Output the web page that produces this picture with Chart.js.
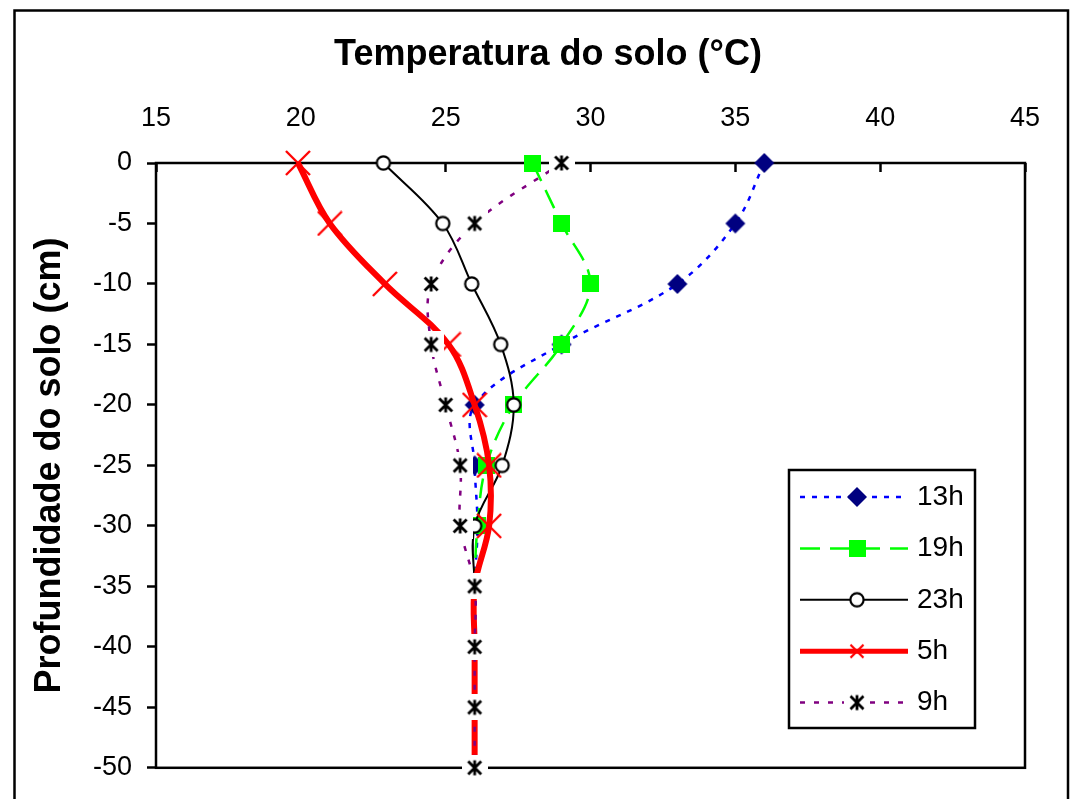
<!DOCTYPE html>
<html>
<head>
<meta charset="utf-8">
<title>Temperatura do solo</title>
<script src="https://cdn.jsdelivr.net/npm/chart.js@4.4.1/dist/chart.umd.min.js"></script>
<style>
  html, body { margin: 0; padding: 0; background: #fff; }
  canvas { display: block; }
</style>
</head>
<body>
<canvas id="grafico" width="1072" height="799"></canvas>
<script>
// profundidade (cm) e temperatura do solo (°C) em cada horário
const profundidades = [0, -5, -10, -15, -20, -25, -30, -35, -40, -45, -50];
const temp13h = [36, 35, 33, 29, 26, 26, 26.1, 26, 26, 26, 26];
const temp19h = [28, 29, 30, 29, 27.35, 26.4, 26.1, 26, 26, 26, 26];
const temp23h = [22.85, 24.9, 25.9, 26.9, 27.35, 26.95, 26, 26, 26, 26, 26];
const temp5h  = [19.9, 21, 22.9, 25.1, 26, 26.5, 26.5, 26, 26, 26, 26];
const temp9h  = [29, 26, 24.5, 24.5, 25, 25.5, 25.5, 26, 26, 26, 26];

const fonte = "'Liberation Sans', Arial, sans-serif";
Chart.defaults.font.family = fonte;
Chart.defaults.color = '#000';

// marcadores estilo Excel, desenhados num canvas pequeno
function marcador(tam, desenha) {
    const c = document.createElement('canvas');
    c.width = tam;
    c.height = tam;
    desenha(c.getContext('2d'), tam / 2);
    return c;
}

const losango = marcador(22, (ctx, m) => {
    ctx.fillStyle = '#000080';
    ctx.beginPath();
    ctx.moveTo(m, m - 10);
    ctx.lineTo(m + 10, m);
    ctx.lineTo(m, m + 10);
    ctx.lineTo(m - 10, m);
    ctx.closePath();
    ctx.fill();
});

const quadrado = marcador(17, (ctx, m) => {
    ctx.fillStyle = '#00FF00';
    ctx.fillRect(0, 0, 17, 17);
});

const circulo = marcador(18, (ctx, m) => {
    ctx.fillStyle = '#fff';
    ctx.strokeStyle = '#000';
    ctx.lineWidth = 2.2;
    ctx.beginPath();
    ctx.arc(m, m, 6.6, 0, Math.PI * 2);
    ctx.fill();
    ctx.stroke();
});

function xis(tam, meio) {
    return marcador(tam, (ctx, m) => {
        ctx.strokeStyle = '#FF0000';
        ctx.lineWidth = 2.3;
        ctx.beginPath();
        ctx.moveTo(m - meio, m - meio);
        ctx.lineTo(m + meio, m + meio);
        ctx.moveTo(m + meio, m - meio);
        ctx.lineTo(m - meio, m + meio);
        ctx.stroke();
    });
}
const xisGrande = xis(26, 12);
const xisPequeno = xis(16, 6.5);

// asterisco com fundo branco (esconde as linhas por baixo)
const asterisco = marcador(26, (ctx, m) => {
    ctx.fillStyle = '#fff';
    ctx.fillRect(0, 0, 26, 26);
    ctx.strokeStyle = '#000';
    ctx.lineWidth = 2.8;
    ctx.beginPath();
    ctx.moveTo(m, m - 7.5);
    ctx.lineTo(m, m + 7.5);
    ctx.moveTo(m - 6.5, m - 6.5);
    ctx.lineTo(m + 6.5, m + 6.5);
    ctx.moveTo(m + 6.5, m - 6.5);
    ctx.lineTo(m - 6.5, m + 6.5);
    ctx.stroke();
});

function serie(rotulo, valores, cor, largura, tracejado, ponto, pontoLegenda, ordem) {
    return {
        label: rotulo,
        data: profundidades.map((p, i) => ({ x: valores[i], y: p })),
        borderColor: cor,
        backgroundColor: cor,
        borderWidth: largura,
        borderDash: tracejado,
        borderJoinStyle: 'round',
        pointStyle: ponto,
        pointRadius: 6,
        pointHoverRadius: 6,
        tension: 0.35,
        clip: false,
        fill: false,
        order: ordem,
        pontoLegenda: pontoLegenda
    };
}

// moldura externa e caixa da área do gráfico
const moldura = {
    id: 'moldura',
    beforeDraw(chart) {
        const ctx = chart.ctx;
        ctx.save();
        ctx.fillStyle = '#fff';
        ctx.fillRect(0, 0, chart.width, chart.height);
        ctx.strokeStyle = '#000';
        ctx.lineWidth = 2.5;
        ctx.strokeRect(14.5, 10.5, 1053.5, 900);
        ctx.restore();
    },
    beforeDatasetsDraw(chart) {
        const a = chart.chartArea;
        const ctx = chart.ctx;
        ctx.save();
        ctx.strokeStyle = '#000';
        ctx.lineWidth = 2.5;
        ctx.strokeRect(a.left, a.top, a.right - a.left, a.bottom - a.top);
        ctx.restore();
    }
};

// legenda dentro da área, com linha + marcador
const legenda = {
    id: 'legenda',
    afterDraw(chart) {
        const a = chart.chartArea;
        const ctx = chart.ctx;
        const x = a.right - 236;
        const y = a.top + 307;
        ctx.save();
        ctx.fillStyle = '#fff';
        ctx.fillRect(x, y, 186, 258);
        ctx.strokeStyle = '#000';
        ctx.lineWidth = 2.5;
        ctx.strokeRect(x, y, 186, 258);
        const itens = chart.data.datasets;
        itens.forEach((ds, i) => {
            const yy = y + 27 + i * 51.4;
            ctx.strokeStyle = ds.borderColor;
            ctx.lineWidth = Math.min(ds.borderWidth, 5);
            ctx.setLineDash(ds.borderDash);
            ctx.beginPath();
            ctx.moveTo(x + 11, yy);
            ctx.lineTo(x + 119, yy);
            ctx.stroke();
            ctx.setLineDash([]);
            const p = ds.pontoLegenda;
            ctx.drawImage(p, x + 68 - p.width / 2, yy - p.height / 2);
            ctx.fillStyle = '#000';
            ctx.font = '28px ' + fonte;
            ctx.textBaseline = 'middle';
            ctx.fillText(ds.label, x + 128, yy);
        });
        ctx.restore();
    }
};

new Chart(document.getElementById('grafico'), {
    type: 'line',
    data: {
        datasets: [
            serie('13h', temp13h, '#0000FF', 2.5, [5, 7], losango, losango, 5),
            serie('19h', temp19h, '#00FF00', 2.5, [20, 10], quadrado, quadrado, 4),
            serie('23h', temp23h, '#000000', 2, [], circulo, circulo, 3),
            serie('5h', temp5h, '#FF0000', 6, [], xisGrande, xisPequeno, 2),
            serie('9h', temp9h, '#800080', 2.5, [5, 9], asterisco, asterisco, 1)
        ]
    },
    options: {
        responsive: false,
        animation: false,
        events: [],
        layout: { padding: { left: 24, right: 0, top: 33, bottom: 31 } },
        plugins: {
            legend: { display: false },
            tooltip: { enabled: false },
            title: {
                display: true,
                text: 'Temperatura do solo (°C)',
                color: '#000',
                font: { size: 36, weight: 'bold' },
                padding: { top: 0, bottom: 0 }
            }
        },
        scales: {
            x: {
                type: 'linear',
                position: 'top',
                min: 15,
                max: 45,
                ticks: { stepSize: 5, padding: 37, color: '#000', font: { size: 27 } },
                grid: { drawOnChartArea: false, drawTicks: true, tickLength: -9, tickWidth: 2.5, tickColor: '#000' },
                border: { display: false },
                afterFit(s) {
                    s.height = 86.8;
                    s.paddingLeft = 0;
                    s.paddingRight = 0;
                }
            },
            y: {
                type: 'linear',
                min: -50,
                max: 0,
                ticks: { stepSize: 5, padding: 15, color: '#000', font: { size: 27 } },
                grid: { drawOnChartArea: false, tickLength: 9, tickWidth: 2.5, tickColor: '#000' },
                border: { display: false },
                title: {
                    display: true,
                    text: 'Profundidade do solo (cm)',
                    color: '#000',
                    font: { size: 36, weight: 'bold' },
                    padding: { top: 4, bottom: 0 }
                },
                afterFit(s) { s.width = 132; }
            },
            y2: {
                type: 'linear',
                position: 'right',
                ticks: { display: false },
                grid: { display: false },
                border: { display: false },
                afterFit(s) { s.width = 47; }
            }
        }
    },
    plugins: [moldura, legenda]
});
</script>
</body>
</html>
